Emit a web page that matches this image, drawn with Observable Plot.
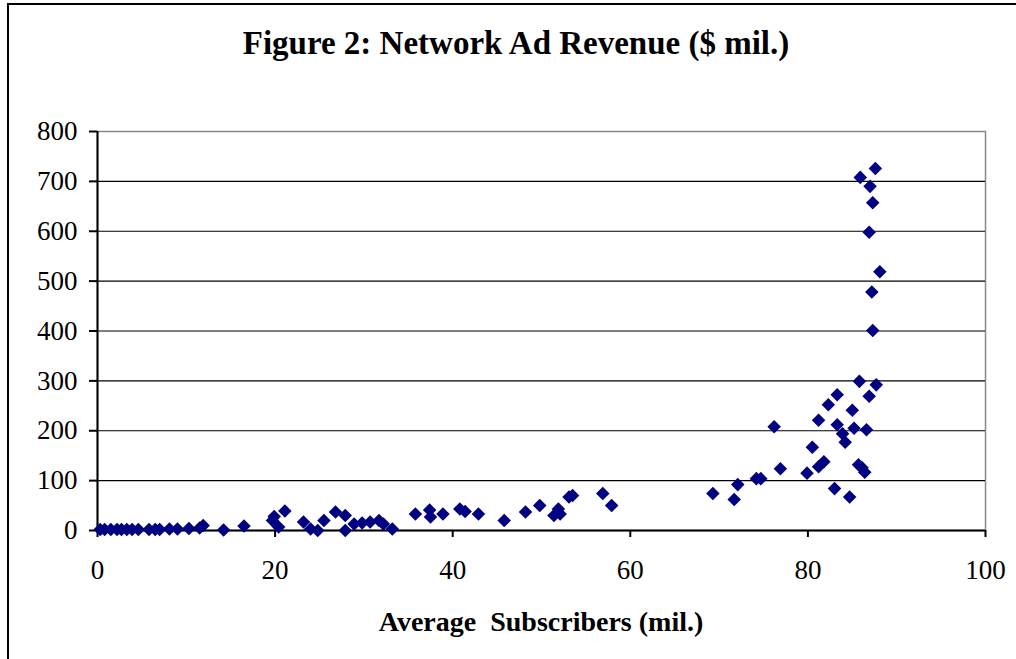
<!DOCTYPE html>
<html>
<head>
<meta charset="utf-8">
<script src="https://cdn.jsdelivr.net/npm/d3@7"></script>
<script src="https://cdn.jsdelivr.net/npm/@observablehq/plot@0.6"></script>
<style>
  html, body { margin: 0; padding: 0; background: #fff; }
  #wrap { position: relative; width: 1016px; height: 659px; overflow: hidden; background: #fff; }
  #border { position: absolute; left: 7px; top: 3px; width: 1100px; height: 800px; border: 2px solid #000; box-sizing: border-box; }
  #title { position: absolute; left: 0; top: 27px; width: 1032px; text-align: center; font-family: "Liberation Serif", serif; font-weight: bold; font-size: 33px; line-height: 1; white-space: pre; }
  #xlabel { position: absolute; left: 0; top: 608px; width: 1082px; text-align: center; font-family: "Liberation Serif", serif; font-weight: bold; font-size: 28px; line-height: 1; white-space: pre; }
  #chart { position: absolute; left: 0; top: 0; }
</style>
</head>
<body>
<div id="wrap">
  <div id="border"></div>
  <div id="chart"></div>
  <div id="title">Figure 2: Network Ad Revenue ($ mil.)</div>
  <div id="xlabel">Average  Subscribers (mil.)</div>
</div>
<script>
// Average subscribers (mil.)
const subscribers = [
  0.3, 0.8, 1.5, 2.2, 2.7, 3.3, 3.9, 4.6, 5.8, 6.5, 7.0, 8.1, 9.0, 10.3, 11.5, 11.9,
  14.2, 16.5, 19.7, 19.9, 20.4, 21.1, 23.2, 24.0, 24.8, 25.5, 26.8, 27.9, 27.9, 28.9,
  29.8, 30.7, 31.7, 32.2, 33.2,
  35.8, 37.4, 37.5, 38.9, 40.8, 41.4, 42.9, 45.8, 48.2, 49.8, 51.4, 51.9, 52.1, 53.1,
  53.5, 56.9, 57.9,
  69.3, 71.7, 72.1, 74.2, 74.7,
  85.8, 87.7, 83.3, 86.9, 82.3, 85.0, 81.2, 76.2, 83.3, 85.2, 86.6, 83.9, 84.2, 80.5,
  81.8, 81.2, 85.7, 86.1, 86.4, 76.9, 79.9, 83.0, 84.7,
  87.6, 85.9, 87.0, 87.3, 86.9, 88.1, 87.2, 87.3
];
// Network ad revenue ($ mil.)
const revenue = [
  2, 2, 2, 2, 2, 2, 2, 2, 2, 2, 2, 3, 3, 4, 5, 10,
  1, 9, 20, 28, 7, 39, 17, 3, 0, 20, 37, 30, 0, 13,
  15, 17, 20, 13, 3,
  33, 41, 27, 33, 43, 38, 33, 20, 37, 50, 30, 43, 33, 67,
  70, 74, 50,
  74, 62, 92, 104, 104,
  299, 292, 272, 269, 252, 241, 221, 208, 212, 205, 202, 194, 177, 167,
  138, 128, 132, 126, 117, 124, 115, 84, 67,
  726, 708, 690, 657, 598, 519, 478, 401
];
const xTicks = [0, 20, 40, 60, 80, 100];
const yTicks = [0, 100, 200, 300, 400, 500, 600, 700, 800];

const data = subscribers.map((s, i) => ({x: s, y: revenue[i]}));

const chart = Plot.plot({
  width: 1016,
  height: 659,
  marginLeft: 97,
  marginRight: 31,
  marginTop: 131,
  marginBottom: 129,
  style: {fontFamily: "'Liberation Serif', serif", fontSize: "27px", background: "transparent", color: "#000"},
  x: {domain: [0, 100], label: null},
  y: {domain: [0, 800], label: null},
  marks: [
    Plot.frame({stroke: "#888", strokeWidth: 1.5}),
    Plot.gridY(yTicks.slice(0, -1), {stroke: "#000", strokeOpacity: 1, strokeWidth: 1.2}),
    Plot.ruleX([0], {stroke: "#000", strokeWidth: 2}),
    Plot.ruleY([0], {stroke: "#000", strokeWidth: 2}),
    Plot.axisX(xTicks, {tickSize: 7, tickPadding: 22, fontSize: 27, tickFormat: d => d, strokeWidth: 2}),
    Plot.axisY(yTicks, {tickSize: 8, tickPadding: 12, fontSize: 27, tickFormat: d => d, strokeWidth: 2}),
    Plot.dot(data, {x: "x", y: "y", symbol: "diamond2", r: 6.1, fill: "#000080", stroke: "none"})
  ]
});
document.getElementById("chart").appendChild(chart);
</script>
</body>
</html>
